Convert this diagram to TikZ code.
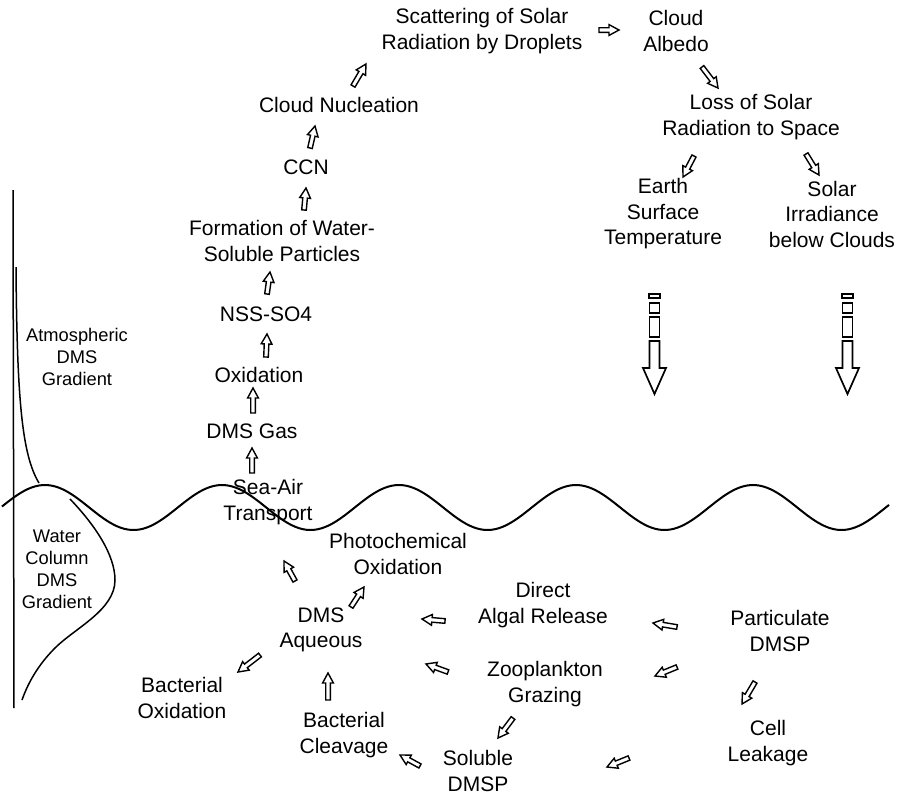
\documentclass[tikz,border=0pt]{standalone}
\usepackage{fontspec}
\setmainfont{Liberation Sans}
\usetikzlibrary{calc}

% hollow block arrow drawn from a tail coordinate to a tip coordinate
\newcommand\flowsw{2.3pt}% half width of the shaft
\newcommand\flowhw{5.4pt}% half width of the head
\newcommand\flowhl{10pt}% length of the head
\newcommand\flowarrow[2]{%
  \draw[flowline]
    ($(#1)!\flowsw!90:(#2)$) --
    ($(#2)!\flowhl!(#1)!\flowsw!-90:(#1)$) --
    ($(#2)!\flowhl!(#1)!\flowhw!-90:(#1)$) --
    (#2) --
    ($(#2)!\flowhl!(#1)!\flowhw!90:(#1)$) --
    ($(#2)!\flowhl!(#1)!\flowsw!90:(#1)$) --
    ($(#1)!\flowsw!-90:(#2)$) -- cycle;
}

% broken downward block arrow, hung from its top centre
\newcommand\coolingarrow[1]{%
  \begin{scope}[shift={(#1)}]
    \draw[bigflow] (-5.5,0) rectangle (5.5,4);
    \draw[bigflow] (-5,9) rectangle (5,19);
    \draw[bigflow] (-5,23) rectangle (5,43);
    \draw[bigflow] (-5,47) -- (5,47) -- (5,74) -- (11.5,74) -- (0,100)
                   -- (-11.5,74) -- (-5,74) -- cycle;
  \end{scope}
}

\begin{document}
\begin{tikzpicture}[x=1pt,y=-1pt,
  lbl/.style={font=\fontsize{21}{25.5}\selectfont, align=center, inner sep=0pt},
  grad/.style={font=\fontsize{18.3}{22}\selectfont, align=center, inner sep=0pt},
  flowline/.style={line width=1.4pt, line join=miter, fill=white},
  bigflow/.style={line width=1.7pt, line join=miter, fill=white},
  profile/.style={line width=1.5pt},
  surface/.style={line width=2pt}]

\useasboundingbox[fill=white] (0,0) rectangle (914,796);

% ---------- profiles on the left ----------
\draw[profile] (13,190) -- (14,708);
\draw[profile] (16,267) .. controls (17,400) and (22,455) .. (39,483);
\draw[profile] (70,499) .. controls (95,525) and (115,555) .. (115,580)
               .. controls (115,610) and (75,628) .. (55,648)
               .. controls (38,665) and (28,683) .. (22,700);

% ---------- sea surface ----------
\draw[surface] plot[domain=2:889, samples=240, smooth]
  (\x, {507.5-22.5*cos(2.0339*(\x-45))});

% ---------- labels ----------
\node[grad] (atm) at (77,357) {Atmospheric\\DMS\\Gradient};
\node[grad] (wc)  at (57,569) {Water\\Column\\DMS\\Gradient};

\node[lbl] (scat)   at (482,31)  {Scattering of Solar\\Radiation by Droplets};
\node[lbl] (albedo) at (676,31)  {Cloud\\Albedo};
\node[lbl] (loss)   at (751,117) {Loss of Solar\\Radiation to Space};
\node[lbl] (earth)  at (663,214) {Earth\\Surface\\Temperature};
\node[lbl] (irr)    at (832,214) {Solar\\Irradiance\\below Clouds};

\node[lbl] (cn)     at (339,105) {Cloud Nucleation};
\node[lbl] (ccn)    at (306,167) {CCN};
\node[lbl] (form)   at (282,241) {Formation of Water-\\Soluble Particles};
\node[lbl] (nss)    at (266,314) {NSS-SO4};
\node[lbl] (oxi)    at (259,375) {Oxidation};
\node[lbl] (gas)    at (252,431) {DMS Gas};
\node[lbl] (seaair) at (268,502) {Sea-Air\\Transport};

\node[lbl] (photo)  at (398,554) {Photochemical\\Oxidation};
\node[lbl] (aq)     at (321,630) {DMS\\Aqueous};
\node[lbl] (direct) at (543,605) {Direct\\Algal Release};
\node[lbl] (part)   at (780,631) {Particulate\\DMSP};
\node[lbl] (zoo)    at (545,684) {Zooplankton\\Grazing};
\node[lbl] (cell)   at (768,743) {Cell\\Leakage};
\node[lbl] (sol)    at (478,771) {Soluble\\DMSP};
\node[lbl] (bc)     at (344,735) {Bacterial\\Cleavage};
\node[lbl] (bo)     at (182,698) {Bacterial\\Oxidation};

% ---------- arrow end points ----------
\coordinate (a1t)  at (353,86);   \coordinate (a1h)  at (366,64);
\coordinate (a2t)  at (599,30);   \coordinate (a2h)  at (619,30);
\coordinate (a3t)  at (702,67);   \coordinate (a3h)  at (718,88);
\coordinate (a4t)  at (694,156);  \coordinate (a4h)  at (683,177);
\coordinate (a5t)  at (806,154);  \coordinate (a5h)  at (819,175);
\coordinate (a6t)  at (310,148);  \coordinate (a6h)  at (315,126);
\coordinate (a7t)  at (304,210);  \coordinate (a7h)  at (306,188);
\coordinate (a8t)  at (267,294);  \coordinate (a8h)  at (270,272);
\coordinate (a9t)  at (266,357);  \coordinate (a9h)  at (267,334);
\coordinate (a10t) at (253,413);  \coordinate (a10h) at (253,388);
\coordinate (a11t) at (252,473);  \coordinate (a11h) at (252,448);
\coordinate (a12t) at (295,581);  \coordinate (a12h) at (284,561);
\coordinate (a13t) at (351,607);  \coordinate (a13h) at (364,587);
\coordinate (a14t) at (445,621);  \coordinate (a14h) at (422,619);
\coordinate (a15t) at (677,627);  \coordinate (a15h) at (653,623);
\coordinate (a16t) at (677,667);  \coordinate (a16h) at (655,676);
\coordinate (a17t) at (448,672);  \coordinate (a17h) at (426,664);
\coordinate (a18t) at (755,682);  \coordinate (a18h) at (742,704);
\coordinate (a19t) at (629,758);  \coordinate (a19h) at (607,767);
\coordinate (a20t) at (513,718);  \coordinate (a20h) at (498,738);
\coordinate (a21t) at (420,766);  \coordinate (a21h) at (400,755);
\coordinate (a22t) at (328,700);  \coordinate (a22h) at (328,673);
\coordinate (a23t) at (260,655);  \coordinate (a23h) at (238,672);

\foreach \k in {1,...,23} {\flowarrow{a\k t}{a\k h}}

% ---------- cooling arrows ----------
\coordinate (cool1) at (654.5,294);
\coordinate (cool2) at (847.5,294);
\coolingarrow{cool1}
\coolingarrow{cool2}

\end{tikzpicture}
\end{document}
